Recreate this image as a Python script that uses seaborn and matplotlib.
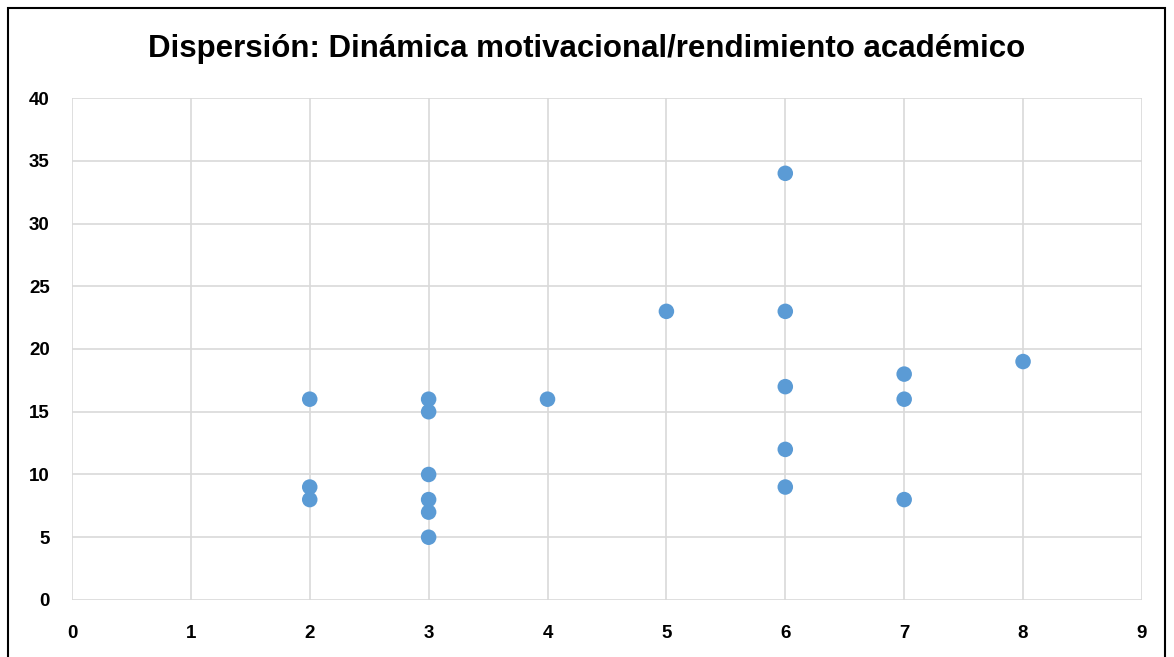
import matplotlib.pyplot as plt
import matplotlib.patches as mpatches
import seaborn as sns
import pandas as pd

# Dinámica motivacional (x) vs rendimiento académico (y)
motivacion = [2, 2, 2, 3, 3, 3, 3, 3, 3, 4, 5, 6, 6, 6, 6, 6, 7, 7, 7, 8]
rendimiento = [16, 9, 8, 16, 15, 10, 8, 7, 5, 16, 23, 34, 23, 17, 12, 9, 18, 16, 8, 19]
x_ticks = list(range(0, 10))
y_ticks = list(range(0, 41, 5))

df = pd.DataFrame({"motivacion": motivacion, "rendimiento": rendimiento})

sns.set_theme(style="white")
plt.rcParams["font.family"] = ["Liberation Sans", "DejaVu Sans"]
plt.rcParams["text.color"] = "black"
plt.rcParams["xtick.color"] = "black"
plt.rcParams["ytick.color"] = "black"

fig = plt.figure(figsize=(11.74, 6.57), dpi=100)
ax = fig.add_axes([0.0613, 0.0868, 0.9114, 0.764])

sns.scatterplot(data=df, x="motivacion", y="rendimiento", ax=ax,
                color="#5B9BD5", s=125, edgecolor="none", zorder=3)

ax.set_xlim(0, 9)
ax.set_ylim(0, 40)
ax.set_xticks(x_ticks)
ax.set_yticks(y_ticks)
ax.grid(True, color="#D9D9D9", linewidth=1.2)
ax.set_axisbelow(True)
for s in ax.spines.values():
    s.set_visible(False)
ax.set_xlabel("")
ax.set_ylabel("")
ax.tick_params(axis="both", length=0, labelsize=13.5, labelcolor="black")
ax.tick_params(axis="x", pad=18)
ax.tick_params(axis="y", pad=16)
for lbl in ax.get_xticklabels() + ax.get_yticklabels():
    lbl.set_fontweight("bold")

fig.text(0.5, 0.925, "Dispersión: Dinámica motivacional/rendimiento académico",
         ha="center", va="center", fontsize=22.5, fontweight="bold", color="black")

# black frame around the chart (bottom edge runs off the image)
frame = mpatches.Rectangle((8 / 1174, -0.05), (1165 - 8) / 1174, 1.05 - 8 / 657,
                           transform=fig.transFigure, fill=False,
                           edgecolor="black", linewidth=1.5)
fig.patches.append(frame)

fig.savefig("out.png", dpi=100)
plt.close(fig)
